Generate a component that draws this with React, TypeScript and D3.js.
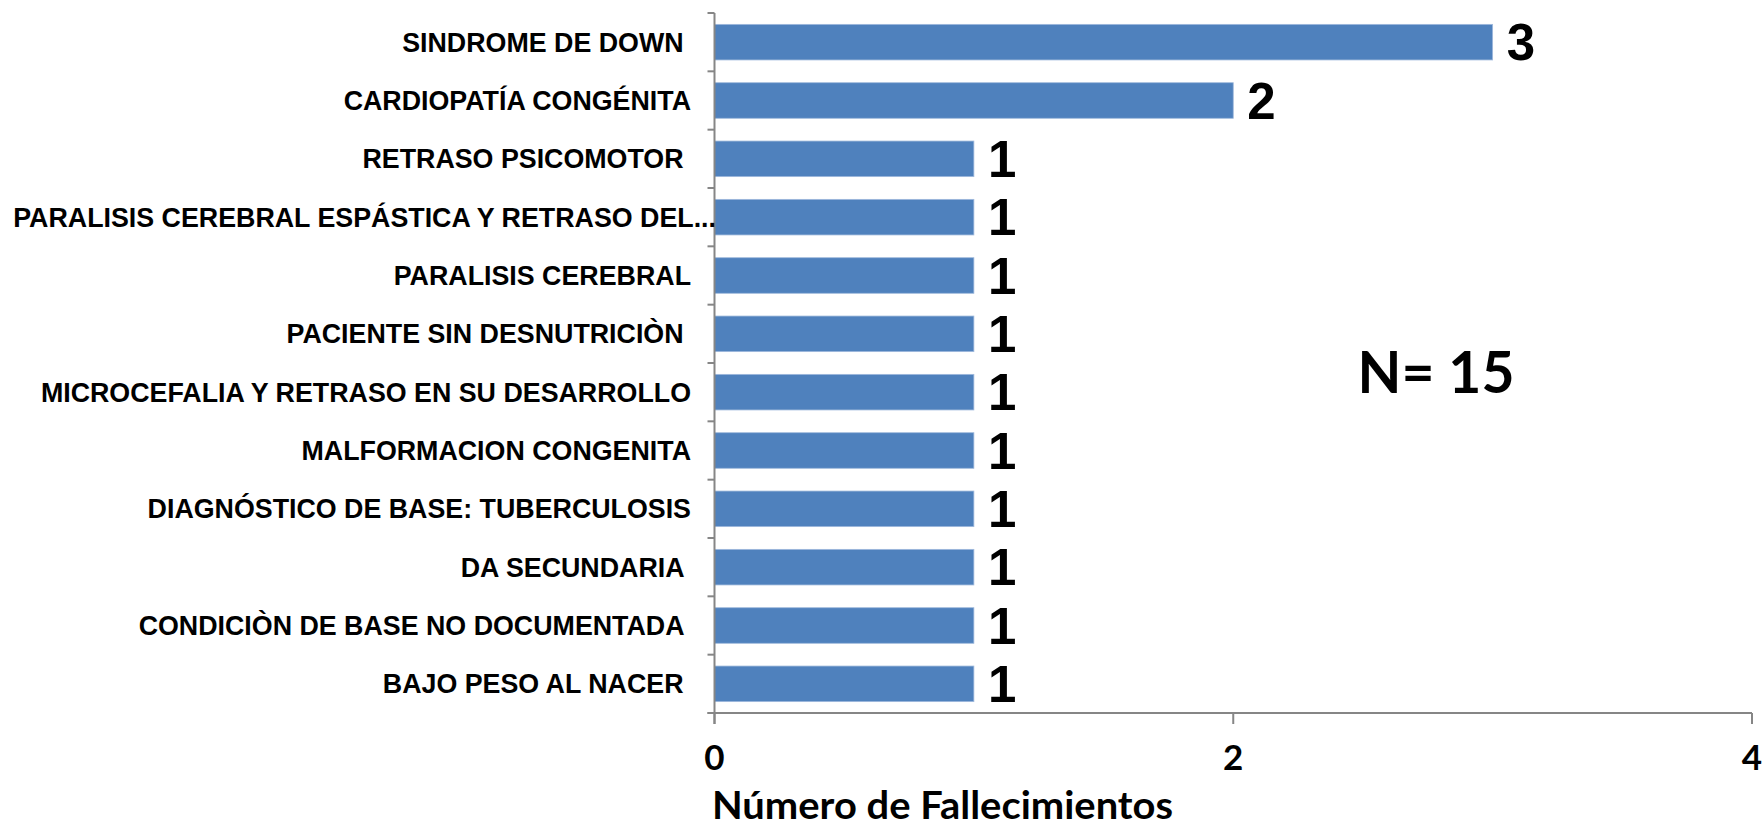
import React from "react";
import * as d3 from "d3";

const categories = [
  "SINDROME DE DOWN ",
  "CARDIOPATÍA CONGÉNITA",
  "RETRASO PSICOMOTOR ",
  "PARALISIS CEREBRAL ESPÁSTICA Y RETRASO DEL...",
  "PARALISIS CEREBRAL",
  "PACIENTE SIN DESNUTRICIÒN ",
  "MICROCEFALIA Y RETRASO EN SU DESARROLLO",
  "MALFORMACION CONGENITA",
  "DIAGNÓSTICO DE BASE: TUBERCULOSIS",
  "DA SECUNDARIA ",
  "CONDICIÒN DE BASE NO DOCUMENTADA ",
  "BAJO PESO AL NACER ",
];
const values = [3, 2, 1, 1, 1, 1, 1, 1, 1, 1, 1, 1];
const xTicks = [0, 2, 4];
const xTitle = "Número de Fallecimientos";
const note = "N= 15";

const W = 1764;
const H = 830;
const left = 714.5;
const right = 1752;
const top = 13;
const bottom = 713;

export default function App() {
  const x = d3.scaleLinear().domain([0, 4]).range([left, right]);
  const y = d3
    .scaleBand<string>()
    .domain(categories)
    .range([top, bottom])
    .paddingInner(0.39)
    .paddingOuter(0.195);
  const step = y.step();
  const axisColor = "#868686";
  const boundaries = d3.range(categories.length + 1).map((i) => top + i * step);

  return (
    <svg
      width={W}
      height={H}
      style={{ position: "absolute", left: 0, top: 0, background: "#fff" }}
    >
      {categories.map((c, i) => (
        <rect
          key={c}
          x={x(0)}
          y={y(c)!}
          width={x(values[i]) - x(0)}
          height={y.bandwidth()}
          fill="#4F81BD"
          stroke="#9fb9dc"
          strokeWidth={0.8}
        />
      ))}
      <line x1={left} x2={left} y1={top} y2={bottom + 11} stroke={axisColor} strokeWidth={2} />
      {boundaries.map((b, i) => (
        <line key={i} x1={left - 7} x2={left} y1={b} y2={b} stroke={axisColor} strokeWidth={2} />
      ))}
      <line x1={left - 7} x2={right} y1={bottom} y2={bottom} stroke={axisColor} strokeWidth={2} />
      {xTicks.map((t) => (
        <g key={t}>
          <line x1={x(t)} x2={x(t)} y1={bottom} y2={bottom + 11} stroke={axisColor} strokeWidth={2} />
          <text
            x={x(t)}
            y={770}
            textAnchor="middle"
            fontFamily="Lato, 'Open Sans', sans-serif"
            fontWeight="bold"
            fontSize={35}
            fill="#000"
          >
            {t}
          </text>
        </g>
      ))}
      {categories.map((c) => {
        const long = c.endsWith("...");
        return (
          <text
            key={c}
            x={long ? 716 : 691}
            y={y(c)! + y.bandwidth() / 2 + 9.5}
            textAnchor="end"
            fontFamily="'Liberation Sans', Arial, sans-serif"
            fontWeight="bold"
            fontSize={26.8}
            fill="#000"
            style={{ whiteSpace: "pre" }}
          >
            {c}
          </text>
        );
      })}
      {categories.map((c, i) => (
        <text
          key={c}
          x={x(values[i]) + 14}
          y={y(c)! + y.bandwidth() / 2 + 18}
          fontFamily="'Liberation Sans', Arial, sans-serif"
          fontWeight="bold"
          fontSize={51}
          fill="#000"
        >
          {values[i]}
        </text>
      ))}
      <text
        x={712}
        y={819}
        fontFamily="Lato, 'Open Sans', sans-serif"
        fontWeight="bold"
        fontSize={39}
        textLength={461}
        lengthAdjust="spacingAndGlyphs"
        fill="#000"
      >
        {xTitle}
      </text>
      <text
        x={1436}
        y={393}
        textAnchor="middle"
        fontFamily="Lato, 'Open Sans', sans-serif"
        fontWeight="bold"
        fontSize={57}
        fill="#000"
        style={{ whiteSpace: "pre" }}
      >
        {note}
      </text>
    </svg>
  );
}
